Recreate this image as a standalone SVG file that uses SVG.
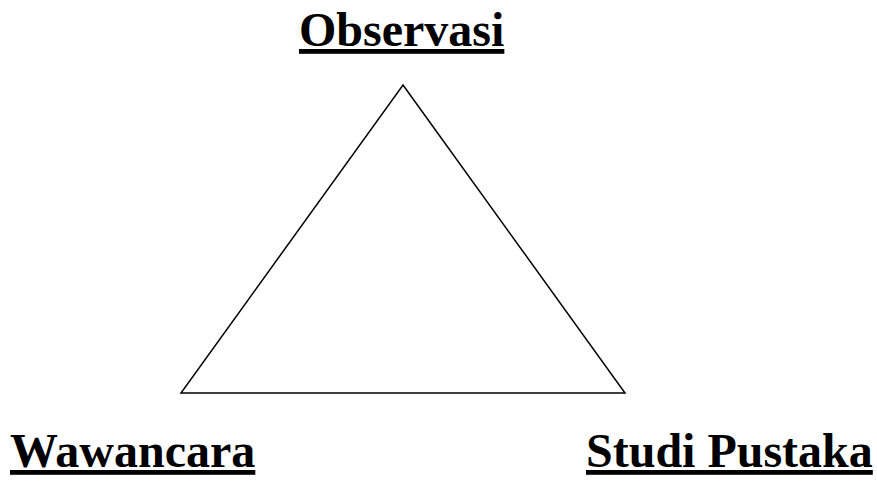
<svg xmlns="http://www.w3.org/2000/svg" width="877" height="481" viewBox="0 0 877 481">
<style>
.lbl{font-family:"Liberation Serif","Times New Roman",serif;font-weight:bold;font-size:48px;fill:#000;text-decoration:underline}
.edge{fill:none;stroke:#000;stroke-width:1.5;stroke-linejoin:miter}
</style>
<rect width="877" height="481" fill="#fff"/>
<g id="connectors">
<polygon class="edge" points="403,85 625,393 181,393"/>
</g>
<g id="observasi"><text class="lbl" x="299" y="46">Observasi</text></g>
<g id="wawancara"><text class="lbl" x="10" y="467">Wawancara</text></g>
<g id="studi-pustaka"><text class="lbl" x="586" y="467">Studi Pustaka</text></g>
</svg>
